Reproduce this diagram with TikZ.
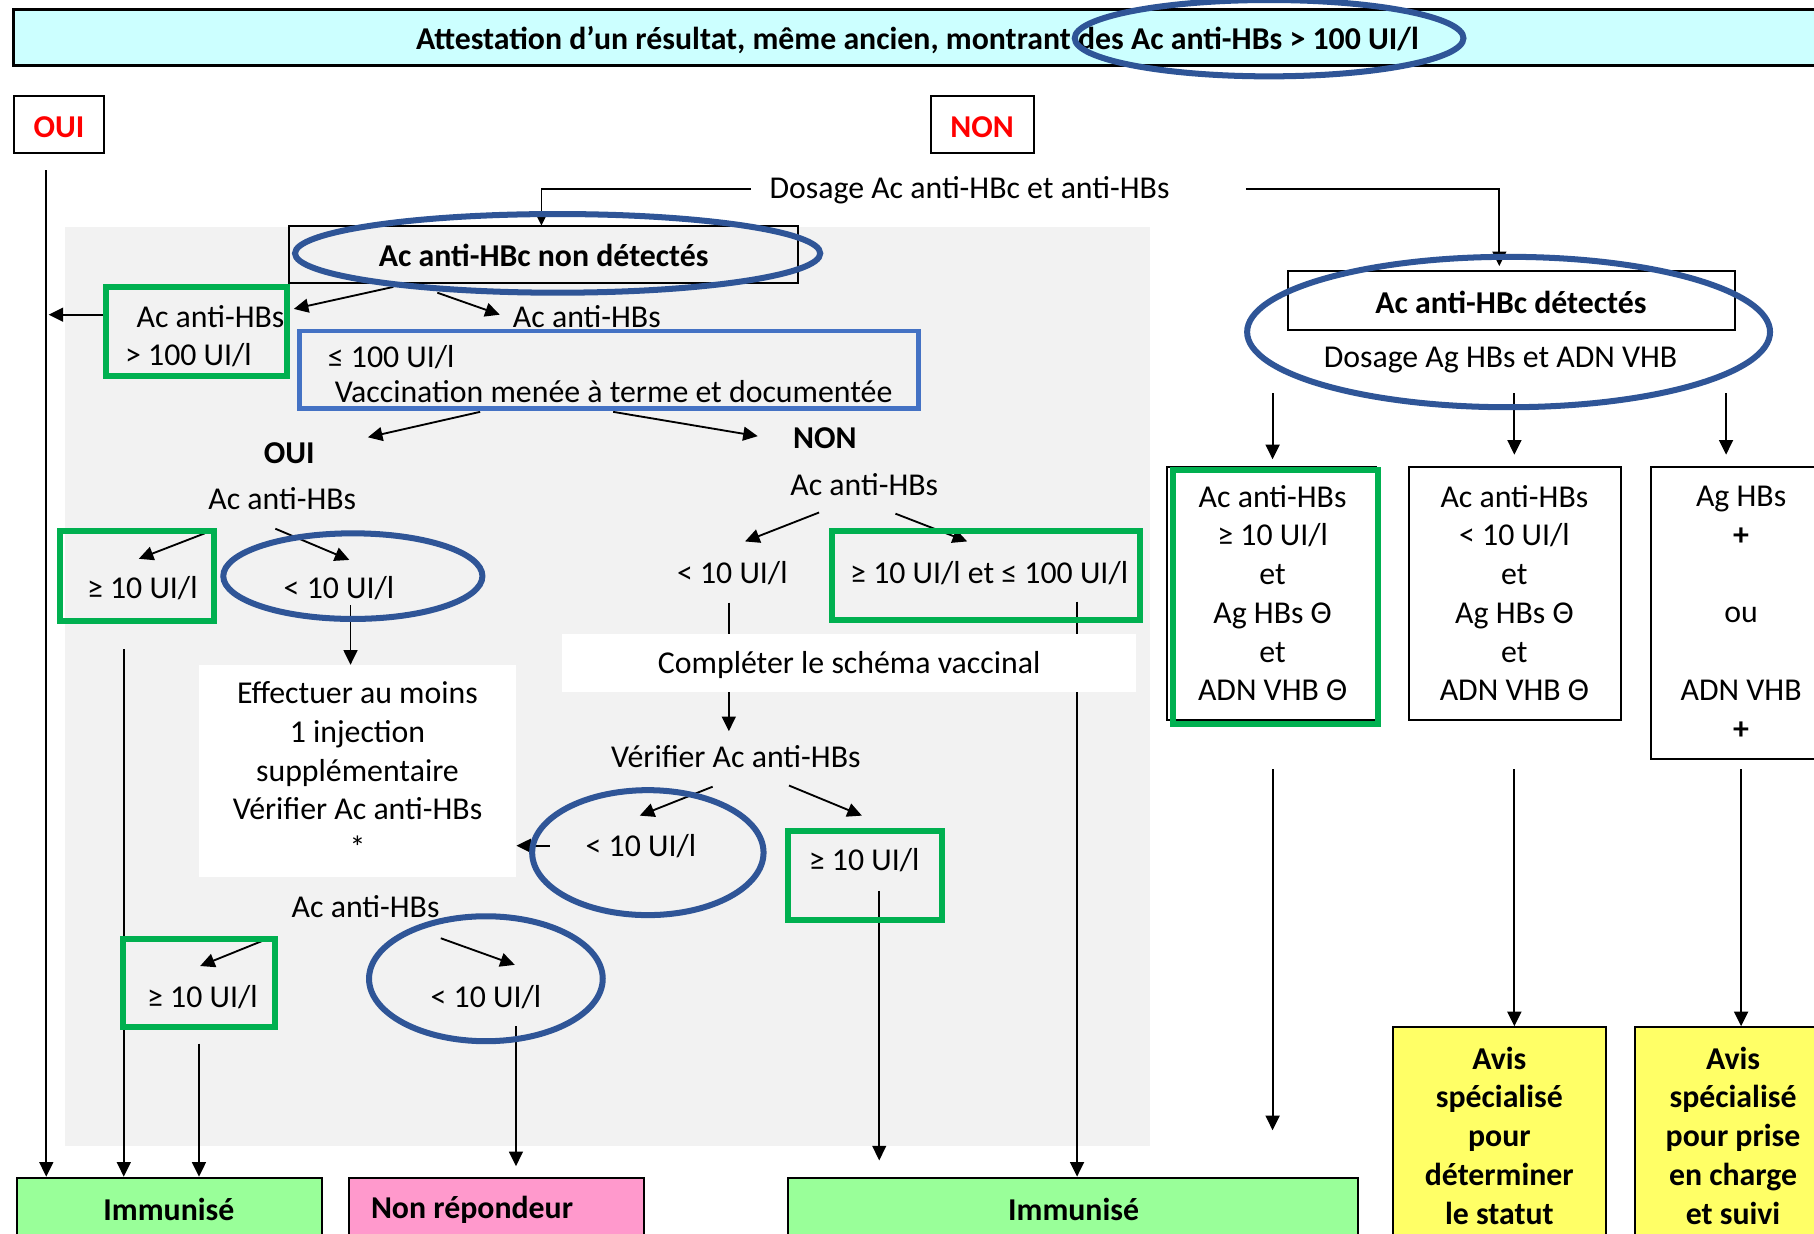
\documentclass[tikz,border=0pt]{standalone}
\usepackage{fontspec}
\setmainfont{Carlito}
\usetikzlibrary{arrows.meta,fit,calc}
\definecolor{cyanbg}{HTML}{CCFFFF}
\definecolor{grn}{HTML}{00B050}
\definecolor{ell}{HTML}{2F5597}
\definecolor{rectblue}{HTML}{4472C4}
\definecolor{graybg}{HTML}{F2F2F2}
\definecolor{immun}{HTML}{99FF99}
\definecolor{pinkbox}{HTML}{FF99CC}
\definecolor{yel}{HTML}{FFFF66}
\begin{document}
\begin{tikzpicture}[x=0.5pt,y=-0.5pt,
  txt/.style={inner sep=0pt, yshift=-0.8pt, font=\fontsize{13.75}{16.75}\selectfont, align=center},
  btxt/.style={inner sep=0pt, yshift=-0.8pt, font=\fontsize{13.75}{16.75}\selectfont\bfseries, align=center},
  bx/.style={inner sep=0pt, draw=black, line width=0.9pt},
  gbx/.style={inner sep=0pt, draw=grn, line width=2.6pt},
  ovl/.style={draw=ell, line width=2.6pt},
  arr/.style={-{Triangle[length=6.3pt,width=6pt]}, line width=0.8pt}]
\useasboundingbox (0,0) rectangle (1568,1066);
\clip (0,0) rectangle (1568,1066);
\fill[white] (0,0) rectangle (1568,1066);

% ---------- top ----------
\node[fit={(12,8)(1600,57)}, inner sep=0pt, fill=cyanbg, draw=black, line width=1.3pt] (titlebox) {};
\node[btxt] (title) at (793,33) {Attestation d’un résultat, même ancien, montrant des Ac anti-HBs > 100 UI/l};
\draw[ovl] (1097,33) ellipse [x radius=168, y radius=33];

\node[fit={(12,83)(90,132)}, bx, fill=white] (ouibox) {};
\node[btxt, text=red] (ouit) at (51,108) {OUI};
\node[fit={(805,83)(894,132)}, bx, fill=white] (nonbox) {};
\node[btxt, text=red] (nont) at (849,108) {NON};

\node[txt] (dosage) at (838,163) {Dosage Ac anti-HBc et anti-HBs};

% ---------- gray background ----------
\node[fit={(56,196)(994,991)}, inner sep=0pt, fill=graybg] (bg) {};

% ---------- bottom boxes ----------
\node[fit={(15,1018)(278,1090)}, bx, fill=immun] (imm1) {};
\node[btxt] (imm1t) at (146,1044) {Immunisé};
\node[fit={(302,1018)(557,1090)}, bx, fill=pinkbox] (nr) {};
\node[btxt] (nrt) at (408,1044) {Non répondeur};
\node[fit={(681,1018)(1174,1090)}, bx, fill=immun] (imm3) {};
\node[btxt] (imm3t) at (928,1044) {Immunisé};
\node[fit={(1204,888)(1388,1090)}, bx, fill=yel] (yel1) {};
\node[btxt] (yel1t) at (1296,980) {Avis\\spécialisé\\pour\\déterminer\\le statut};
\node[fit={(1413,888)(1600,1090)}, bx, fill=yel] (yel2) {};
\node[btxt] (yel2t) at (1498,980) {Avis\\spécialisé\\pour prise\\en charge\\et suivi};

% ---------- coordinates ----------
\coordinate (ouiTop) at (40,147);
\coordinate (dl) at (649,163);
\coordinate (dr) at (1077,163);
\coordinate (detIn) at (1296,230);
\coordinate (ndIn) at (468,195);
\coordinate (g1w) at (90,272);
\coordinate (a1s) at (340,248); \coordinate (a1e) at (254,267);
\coordinate (a2s) at (378,253); \coordinate (a2e) at (432,272);
\coordinate (a3s) at (415,356); \coordinate (a3e) at (318,378);
\coordinate (a4s) at (530,356); \coordinate (a4e) at (655,377);
\coordinate (a5s) at (177,461); \coordinate (a5e) at (120,483);
\coordinate (a6s) at (238,457); \coordinate (a6e) at (302,484);
\coordinate (a7s) at (303,523);
\coordinate (a8s) at (708,443); \coordinate (a8e) at (644,468);
\coordinate (a9s) at (774,444); \coordinate (a9e) at (836,468);
\coordinate (a10s) at (630,521); \coordinate (a10e) at (630,632);
\coordinate (a11s) at (931,520);
\coordinate (a12s) at (616,680); \coordinate (a12e) at (553,705);
\coordinate (a13s) at (682,679); \coordinate (a13e) at (745,705);
\coordinate (a14s) at (475,731);
\coordinate (a15s) at (760,770); \coordinate (a15e) at (760,1003);
\coordinate (a16s) at (230,812); \coordinate (a16e) at (173,835);
\coordinate (a17s) at (381,811); \coordinate (a17e) at (445,834);
\coordinate (a18s) at (446,887); \coordinate (a18e) at (446,1008);
\coordinate (a19s) at (107,561);
\coordinate (a20s) at (172,902);
\coordinate (r1s) at (1100,340); \coordinate (r1e) at (1100,397);
\coordinate (r2s) at (1309,340); \coordinate (r2e) at (1309,393);
\coordinate (r3s) at (1492,340); \coordinate (r3e) at (1492,393);
\coordinate (r4s) at (1100,665); \coordinate (r4e) at (1100,977);
\coordinate (r5s) at (1309,665);
\coordinate (r6s) at (1505,665);

% ---------- connectors ----------
\draw[arr] (ouiTop) -- (ouiTop |- imm1.north);
\draw[arr] (dl) -| (ndIn);
\draw[arr] (dr) -| (detIn);
\draw[arr] (g1w) -- ($(g1w -| ouiTop)+(2,0)$);
\draw[arr] (a1s) -- (a1e);
\draw[arr] (a2s) -- (a2e);
\draw[arr] (a3s) -- (a3e);
\draw[arr] (a4s) -- (a4e);
\draw[arr] (a5s) -- (a5e);
\draw[arr] (a6s) -- (a6e);
\draw[arr] (a8s) -- (a8e);
\draw[arr] (a9s) -- (a9e);
\draw[arr] (a10s) -- (a10e);
\draw[arr] (a11s) -- (a11s |- imm3.north);
\draw[arr] (a12s) -- (a12e);
\draw[arr] (a13s) -- (a13e);
\draw[arr] (a15s) -- (a15e);
\draw[arr] (a16s) -- (a16e);
\draw[arr] (a17s) -- (a17e);
\draw[arr] (a18s) -- (a18e);
\draw[arr] (a19s) -- (a19s |- imm1.north);
\draw[arr] (a20s) -- (a20s |- imm1.north);
\draw[arr] (r1s) -- (r1e);
\draw[arr] (r2s) -- (r2e);
\draw[arr] (r3s) -- (r3e);
\draw[arr] (r4s) -- (r4e);
\draw[arr] (r5s) -- (r5s |- yel1.north);
\draw[arr] (r6s) -- (r6s |- yel2.north);

% ---------- white boxes (over lines) ----------
\node[fit={(172,575)(446,758)}, inner sep=0pt, fill=white] (wb1) {};
\node[txt] (wb1t) at (309,664) {Effectuer au moins\\1 injection\\supplémentaire\\Vérifier Ac anti-HBs\\*};
\draw[arr] (a7s) -- (a7s |- wb1.north);
\draw[arr] (a14s) -- (a14s -| wb1.east);
\node[fit={(486,548)(982,598)}, inner sep=0pt, fill=white] (wb2) {};
\node[txt] (wb2t) at (734,573) {Compléter le schéma vaccinal};

% ---------- left panel ----------
\node[fit={(250,195)(690,245)}, bx] (nondet) {};
\node[btxt] (nondett) at (470,219) {Ac anti-HBc non détectés};
\draw[ovl] (482,219) ellipse [x radius=227, y radius=34];

\node[fit={(92,248)(248,325)}, gbx] (gb1) {};
\node[txt, align=left] (gb1t) at (177,289) {\hspace*{5pt}Ac anti-HBs\\> 100 UI/l};

\node[txt, anchor=west] (ac1) at (443,272) {Ac anti-HBs};
\node[fit={(259,286)(794,353)}, inner sep=0pt, draw=rectblue, line width=2pt] (vacc) {};
\node[txt, anchor=west] (le100) at (283,307) {≤ 100 UI/l};
\node[txt, anchor=west] (vacct) at (289,337) {Vaccination menée à terme et documentée};

\node[btxt] (oui2) at (250,390) {OUI};
\node[btxt] (non2) at (713,377) {NON};
\node[txt] (ac2) at (244,429) {Ac anti-HBs};
\node[txt] (ac3) at (747,417) {Ac anti-HBs};

\node[fit={(52,459)(185,537)}, gbx] (gb2) {};
\node[txt] (gb2t) at (123,507) {≥ 10 UI/l};
\draw[ovl] (305,498) ellipse [x radius=112, y radius=37];
\node[txt] (lt1) at (293,507) {< 10 UI/l};

\node[txt] (lt2) at (633,494) {< 10 UI/l};
\node[fit={(719,459)(985,536)}, gbx] (gb3) {};
\node[txt] (gb3t) at (855,494) {≥ 10 UI/l et ≤ 100 UI/l};

\node[txt] (verif) at (636,652) {Vérifier Ac anti-HBs};
\draw[ovl] (560,737) ellipse [x radius=100, y radius=54];
\node[txt] (lt3) at (554,730) {< 10 UI/l};
\node[fit={(681,718)(814,795)}, gbx] (gb4) {};
\node[txt] (gb4t) at (747,742) {≥ 10 UI/l};

\node[txt] (ac4) at (316,782) {Ac anti-HBs};
\node[fit={(106,812)(238,888)}, gbx] (gb5) {};
\node[txt] (gb5t) at (175,860) {≥ 10 UI/l};
\draw[ovl] (420,846) ellipse [x radius=101, y radius=54];
\node[txt] (lt4) at (420,860) {< 10 UI/l};

% ---------- right panel ----------
\node[fit={(1113,234)(1500,285)}, bx, fill=white] (det) {};
\node[btxt] (dett) at (1306,260) {Ac anti-HBc détectés};
\node[txt] (dosag2) at (1297,310) {Dosage Ag HBs et ADN VHB};
\draw[ovl] (1304,287) ellipse [x radius=226, y radius=65];

\node[fit={(1009,404)(1189,622)}, bx] (rb1) {};
\node[fit={(1014,406)(1191,626)}, gbx] (rb1g) {};
\node[txt] (rb1t) at (1100,511) {Ac anti-HBs\\≥ 10 UI/l\\et\\Ag HBs Θ\\et\\ADN VHB Θ};
\node[fit={(1218,404)(1401,622)}, bx] (rb2) {};
\node[txt] (rb2t) at (1309,511) {Ac anti-HBs\\< 10 UI/l\\et\\Ag HBs Θ\\et\\ADN VHB Θ};
\node[fit={(1427,404)(1600,656)}, bx] (rb3) {};
\node[txt] (rb3t) at (1505,528) {Ag HBs\\\textbf{+}\\[16.75pt]ou\\[16.75pt]ADN VHB\\\textbf{+}};
\end{tikzpicture}
\end{document}
